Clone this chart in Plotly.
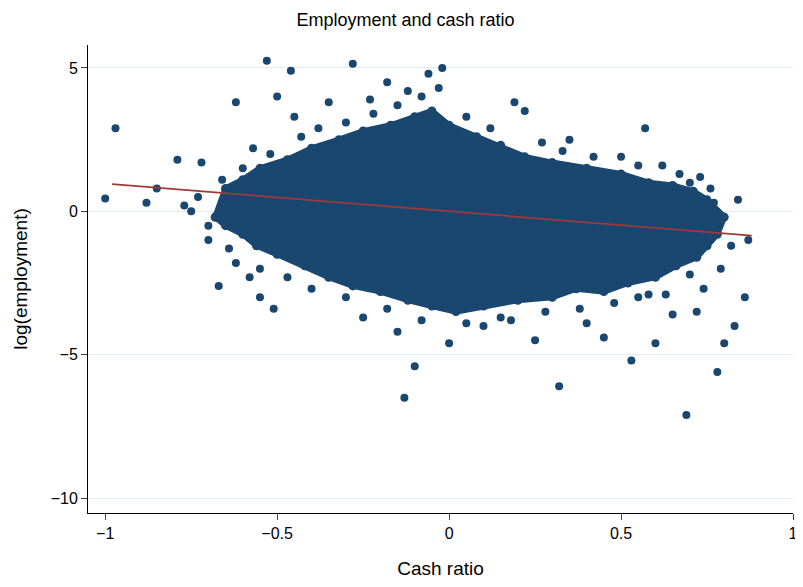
import plotly.graph_objects as go

# dense core of the cloud, outline
core_x = [-0.68, -0.65, -0.6, -0.55, -0.47, -0.4, -0.32, -0.25, -0.17, -0.1, -0.05, 0.0, 0.08,
          0.15, 0.22, 0.3, 0.4, 0.5, 0.58, 0.65, 0.71, 0.75, 0.8,
          0.78, 0.75, 0.72, 0.66, 0.6, 0.52, 0.45, 0.37, 0.3, 0.2, 0.1, 0.02, -0.05, -0.12,
          -0.2, -0.28, -0.35, -0.42, -0.5, -0.56, -0.6, -0.65, -0.68]
core_y = [-0.2, 0.8, 1.1, 1.5, 1.8, 2.2, 2.5, 2.8, 3.0, 3.3, 3.5, 3.0, 2.6,
          2.3, 1.9, 1.7, 1.5, 1.3, 1.0, 0.9, 0.7, 0.4, -0.2,
          -0.8, -1.2, -1.6, -1.9, -2.3, -2.5, -2.8, -2.7, -3.0, -3.1, -3.3, -3.5, -3.3, -3.1,
          -2.8, -2.6, -2.3, -1.9, -1.5, -1.2, -0.8, -0.5, -0.2]

# scattered points outside the core
out_x = [-1.0, -0.97, -0.88, -0.79, -0.77, -0.72, -0.62, -0.53, -0.5, -0.46, -0.55, -0.51,
         -0.28, -0.13, -0.1, -0.02, -0.06, -0.18, 0.19, 0.32, 0.57, 0.69, 0.78, 0.86, 0.83,
         0.8, 0.72, 0.53, 0.6, 0.65, 0.25, 0.1, -0.25, 0.4, 0.84, 0.82, 0.79, 0.87, 0.76,
         -0.85, -0.7, -0.62, -0.58, 0.5, 0.62, 0.35, -0.45, -0.35, -0.03, 0.0, 0.18, -0.15,
         0.45, -0.75, -0.66, 0.7, 0.74,
         -0.6, -0.57, -0.52, -0.43, -0.38, -0.3, -0.22, -0.15, -0.08, 0.05, 0.12, 0.27, 0.33,
         0.42, 0.55, 0.67, 0.73, 0.77, 0.7, 0.63, 0.55, 0.48, 0.38, 0.28, 0.15, 0.05, -0.08,
         -0.18, -0.3, -0.4, -0.47, -0.55, -0.64, -0.7, -0.73, -0.67, -0.23, -0.12, 0.22, 0.58]
out_y = [0.45, 2.9, 0.3, 1.8, 0.2, 1.7, 3.8, 5.25, 4.0, 4.9, -3.0, -3.4,
         5.15, -6.5, -5.4, 5.0, 4.8, 4.5, 3.8, -6.1, 2.9, -7.1, -5.6, -3.0, -4.0,
         -4.6, -3.5, -5.2, -4.6, -3.6, -4.5, -4.0, -3.7, -3.9, 0.4, -1.2, -2.0, -1.0, 0.8,
         0.8, -1.0, -1.8, -2.3, 1.9, 1.6, 2.5, 3.3, 3.8, 4.3, -4.6, -3.8, -4.2,
         -4.4, 0.0, 1.1, 1.0, -2.7,
         1.5, 2.2, 2.0, 2.6, 2.9, 3.1, 3.4, 3.7, 4.0, 3.3, 2.9, 2.4, 2.1,
         1.9, 1.6, 1.3, 1.2, 0.3, -2.2, -2.9, -3.0, -3.2, -3.4, -3.5, -3.7, -3.9, -3.8,
         -3.4, -3.0, -2.7, -2.3, -2.0, -1.3, -0.5, 0.5, -2.6, 3.9, 4.2, 3.5, -2.9]

fit_x = [-0.98, 0.88]
fit_y = [0.95, -0.85]

navy = '#1a476f'

fig = go.Figure()
fig.add_trace(go.Scatter(x=core_x, y=core_y, mode='lines+markers', fill='toself',
                         fillcolor=navy, line=dict(color=navy, width=6),
                         marker=dict(color=navy, size=9), showlegend=False))
fig.add_trace(go.Scatter(x=out_x, y=out_y, mode='markers',
                         marker=dict(color=navy, size=8), showlegend=False))
fig.add_trace(go.Scatter(x=fit_x, y=fit_y, mode='lines',
                         line=dict(color='#a03a3a', width=1.8), showlegend=False))

fig.update_layout(
    width=795, height=571,
    paper_bgcolor='white', plot_bgcolor='white',
    margin=dict(l=80, r=10, t=37, b=66),
    title=dict(text='Employment and cash ratio', x=0.5, xanchor='center',
               y=0.99, yanchor='top',
               font=dict(family='Liberation Sans', size=18, color='black')),
    font=dict(family='Liberation Sans', size=16, color='black'),
    xaxis=dict(range=[-1.05, 1.0], tickvals=[-1, -0.5, 0, 0.5, 1],
               ticktext=['\u22121', '\u22120.5', '0', '0.5', '1'], automargin=False,
               showgrid=False, zeroline=False, showline=True, linecolor='black',
               ticks='outside', ticklen=6,
               title=dict(text='Cash ratio', standoff=28)),
    yaxis=dict(range=[-10.52, 5.8], tickvals=[-10, -5, 0, 5],
               ticktext=['\u221210', '\u22125', '0', '5'], automargin=False,
               showgrid=True, gridcolor='#e4ecf0', zeroline=False,
               showline=True, linecolor='black', ticks='outside', ticklen=6,
               title=dict(text='log(employment)', standoff=18)),
)

fig.write_html("out.html")
